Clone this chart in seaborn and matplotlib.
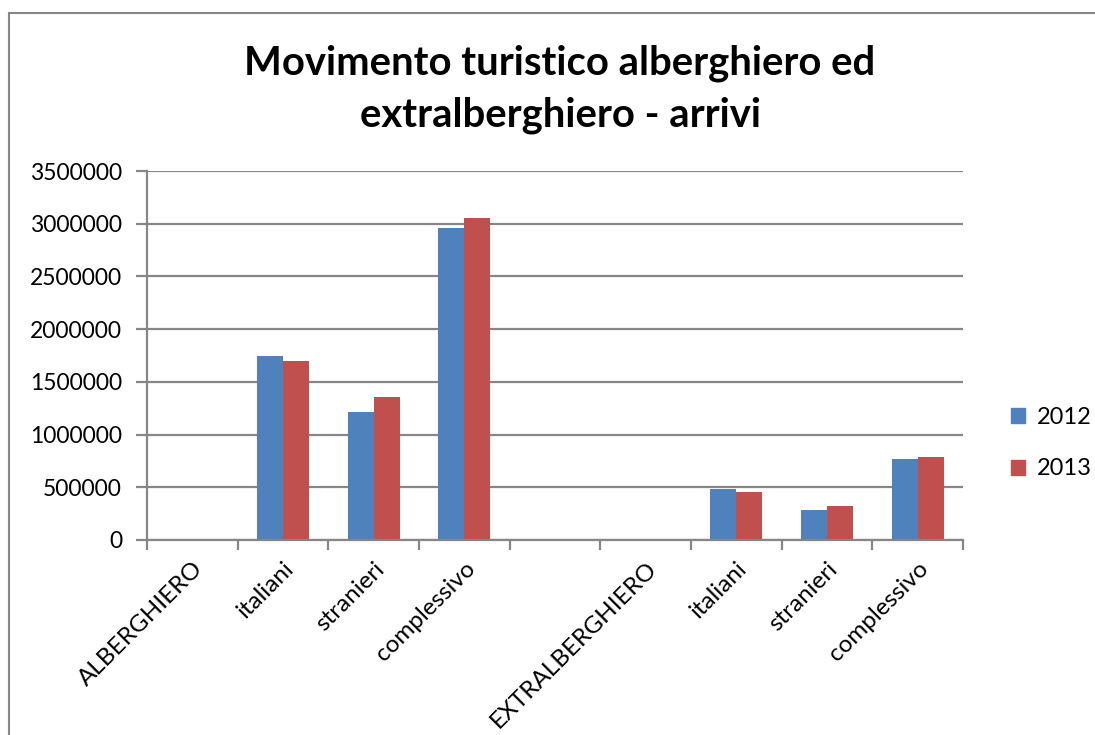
import numpy as np
import pandas as pd
import matplotlib
matplotlib.use("Agg")
import matplotlib.pyplot as plt
from matplotlib.lines import Line2D
import seaborn as sns

# data
categories = ["ALBERGHIERO", "italiani", "stranieri", "complessivo", "",
              "EXTRALBERGHIERO", "italiani", "stranieri", "complessivo"]
arrivi_2012 = [np.nan, 1746000, 1212000, 2962000, np.nan,
               np.nan, 479000, 283000, 768000]
arrivi_2013 = [np.nan, 1695000, 1355000, 3057000, np.nan,
               np.nan, 460000, 321000, 790000]
years = ["2012", "2013"]
yticks = [0, 500000, 1000000, 1500000, 2000000, 2500000, 3000000, 3500000]

blue = "#4F81BD"
red = "#C0504D"
grid_col = "#868686"

sns.set_style("white")
plt.rcParams["font.family"] = ["Lato", "DejaVu Sans"]
plt.rcParams["text.color"] = "black"

# unique keys so that the repeated labels stay separate categories
keys = [f"{i}_{c}" for i, c in enumerate(categories)]
df = pd.DataFrame({
    "key": keys * 2,
    "anno": [years[0]] * len(keys) + [years[1]] * len(keys),
    "arrivi": arrivi_2012 + arrivi_2013,
})

fig = plt.figure(figsize=(10.95, 7.35), dpi=100)
ax = fig.add_axes([147 / 1095, 1 - 540 / 735, (963 - 147) / 1095, (540 - 171) / 735])

sns.barplot(data=df, x="key", y="arrivi", hue="anno", order=keys,
            palette=[blue, red], width=0.57, gap=0, ax=ax, legend=False,
            saturation=1, linewidth=0)

ax.set_xlim(-0.5, len(keys) - 0.5)
ax.set_ylim(0, 3500000)
ax.set_yticks(yticks)
ax.set_yticklabels([str(v) for v in yticks], fontsize=16.5, color="black")
ax.yaxis.grid(True, color=grid_col, linewidth=1.6)
ax.set_axisbelow(True)

ax.set_xticks(range(len(keys)))
ax.set_xticklabels(categories, rotation=45, ha="right",
                   rotation_mode="anchor", fontsize=17.5, color="black")
ax.set_xticks(np.arange(-0.5, len(keys)), minor=True)
ax.tick_params(axis="x", which="major", length=0, pad=13)
ax.tick_params(axis="x", which="minor", length=7, width=1.6, color=grid_col,
               direction="out", bottom=True)
ax.tick_params(axis="y", length=8, width=1.6, color=grid_col, direction="out",
               left=True, pad=10)
ax.set_xlabel("")
ax.set_ylabel("")

for side in ["top", "right"]:
    ax.spines[side].set_visible(False)
for side in ["left", "bottom"]:
    ax.spines[side].set_color(grid_col)
    ax.spines[side].set_linewidth(1.6)

fig.text(560 / 1095, 1 - 89 / 735, "Movimento turistico alberghiero ed\nextralberghiero - arrivi",
         ha="center", va="center", fontsize=28.8, fontweight="bold",
         linespacing=1.5)

handles = [plt.Rectangle((0, 0), 1, 1, color=blue),
           plt.Rectangle((0, 0), 1, 1, color=red)]
fig.legend(handles, years, loc="center left",
           bbox_to_anchor=(990 / 1095, 1 - 443 / 735), frameon=False,
           fontsize=17, handlelength=0.6, handleheight=0.6,
           handletextpad=0.5, labelspacing=1.3)

# outer chart border (only top and left visible in the crop)
fig.add_artist(Line2D([9 / 1095, 1], [1 - 13 / 735, 1 - 13 / 735],
                      transform=fig.transFigure, color=grid_col, linewidth=1.5))
fig.add_artist(Line2D([9 / 1095, 9 / 1095], [0, 1 - 13 / 735],
                      transform=fig.transFigure, color=grid_col, linewidth=1.5))

fig.savefig("out.png", dpi=100, facecolor="white")
